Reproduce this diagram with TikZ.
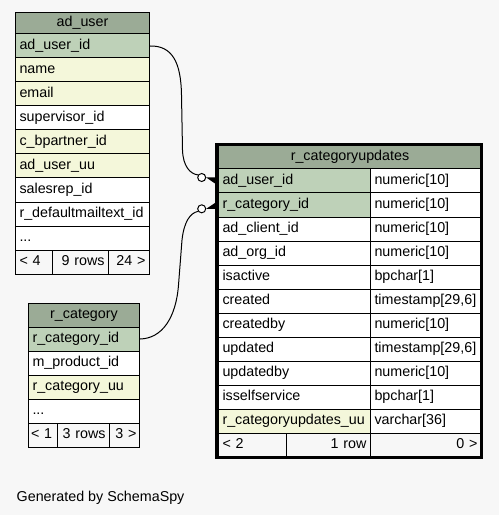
\documentclass[tikz,border=0pt]{standalone}
\usepackage{fontspec}
\setmainfont{Liberation Sans}
\newcommand\tblfont{\fontsize{14.3bp}{17bp}\selectfont}
\definecolor{bgc}{HTML}{F7F7F7}
\definecolor{hdrc}{HTML}{9BAB96}
\definecolor{pkc}{HTML}{BED1B8}
\definecolor{idxc}{HTML}{F4F7DA}
\tikzset{
  cellbase/.style={draw=black, line width=1bp, anchor=north west, inner xsep=4bp, inner ysep=0pt,
    minimum height=24bp, text height=10.5bp, text depth=3.3bp, font=\tblfont, align=left},
  hdr/.style={cellbase, fill=hdrc, align=center},
  pk/.style={cellbase, fill=pkc},
  idx/.style={cellbase, fill=idxc},
  plain/.style={cellbase, fill=white},
  ftr/.style={cellbase, fill=bgc},
  ftrr/.style={cellbase, fill=bgc, align=right},
  odot/.style={circle, draw=black, fill=white, line width=1bp, minimum size=8bp, inner sep=0pt},
  conn/.style={draw=black, line width=1bp},
  crow/.style={fill=black}
}
\begin{document}
\begin{tikzpicture}[x=1bp,y=-1bp]
\fill[bgc] (0,0) rectangle (499,515);
\useasboundingbox (0,0) rectangle (499,515);

% ad_user
\node[hdr, minimum height=21.5bp, text width=126bp] (uh) at (15,12) {ad\_user};
\node[pk, text width=126bp] (u1) at (15,33.5) {ad\_user\_id};
\node[idx, text width=126bp] (u2) at (15,57.5) {name};
\node[idx, text width=126bp] (u3) at (15,81.5) {email};
\node[plain, text width=126bp] (u4) at (15,105.5) {supervisor\_id};
\node[idx, text width=126bp] (u5) at (15,129.5) {c\_bpartner\_id};
\node[idx, text width=126bp] (u6) at (15,153.5) {ad\_user\_uu};
\node[plain, text width=126bp] (u7) at (15,177.5) {salesrep\_id};
\node[plain, text width=126bp] (u8) at (15,201.5) {r\_defaultmailtext\_id};
\node[plain, text width=126bp] (u9) at (15,225.5) {...};
\node[ftr, text width=29bp] (uf1) at (15,249.5) {< 4};
\node[ftrr, text width=48bp] (uf2) at (52,249.5) {9 rows};
\node[ftrr, text width=33bp] (uf3) at (108,249.5) {24 >};

% r_category
\node[hdr, text width=103bp] (ch) at (28,302.5) {r\_category};
\node[pk, text width=103bp] (c1) at (28,326.5) {r\_category\_id};
\node[plain, text width=103bp] (c2) at (28,350.5) {m\_product\_id};
\node[idx, text width=103bp] (c3) at (28,374.5) {r\_category\_uu};
\node[plain, text width=103bp] (c4) at (28,398.5) {...};
\node[ftr, inner xsep=2.5bp, text width=24bp] (cf1) at (28,422.5) {< 1};
\node[ftrr, text width=44bp] (cf2) at (57,422.5) {3 rows};
\node[ftrr, inner xsep=3bp, text width=24bp] (cf3) at (109,422.5) {3 >};

% r_categoryupdates
\node[hdr, minimum height=23.5bp, text width=255bp] (rh) at (218,145) {r\_categoryupdates};
\node[pk, text width=144bp] (r1) at (218,168.5) {ad\_user\_id};
\node[plain, text width=103bp] (t1) at (370,168.5) {numeric[10]};
\node[pk, text width=144bp] (r2) at (218,192.5) {r\_category\_id};
\node[plain, text width=103bp] (t2) at (370,192.5) {numeric[10]};
\node[plain, text width=144bp] (r3) at (218,216.5) {ad\_client\_id};
\node[plain, text width=103bp] (t3) at (370,216.5) {numeric[10]};
\node[plain, text width=144bp] (r4) at (218,240.5) {ad\_org\_id};
\node[plain, text width=103bp] (t4) at (370,240.5) {numeric[10]};
\node[plain, text width=144bp] (r5) at (218,264.5) {isactive};
\node[plain, text width=103bp] (t5) at (370,264.5) {bpchar[1]};
\node[plain, text width=144bp] (r6) at (218,288.5) {created};
\node[plain, text width=103bp] (t6) at (370,288.5) {timestamp[29,6]};
\node[plain, text width=144bp] (r7) at (218,312.5) {createdby};
\node[plain, text width=103bp] (t7) at (370,312.5) {numeric[10]};
\node[plain, text width=144bp] (r8) at (218,336.5) {updated};
\node[plain, text width=103bp] (t8) at (370,336.5) {timestamp[29,6]};
\node[plain, text width=144bp] (r9) at (218,360.5) {updatedby};
\node[plain, text width=103bp] (t9) at (370,360.5) {numeric[10]};
\node[plain, text width=144bp] (r10) at (218,384.5) {isselfservice};
\node[plain, text width=103bp] (t10) at (370,384.5) {bpchar[1]};
\node[idx, text width=144bp] (r11) at (218,408.5) {r\_categoryupdates\_uu};
\node[plain, text width=103bp] (t11) at (370,408.5) {varchar[36]};
\node[ftr, text width=60bp] (rf1) at (218,432.5) {< 2};
\node[ftrr, text width=76bp] (rf2) at (286,432.5) {1 row};
\node[ftrr, text width=103bp] (rf3) at (370,432.5) {0 >};
\draw[line width=3.2bp] (216.8,144.4) rectangle (481.7,457.6);

% connectors
\node[odot] (o1) at (201.7,177.5) {};
\node[odot] (o2) at (201.7,208.8) {};
\draw[conn] (u1.east) .. controls (172,45.5) and (181,62) .. (181.5,95) -- (182.5,150) .. controls (183,166) and (190,174) .. (o1.145);
\fill[crow] (o1.east) -- ([yshift=-4.5bp]r1.west) -- ([yshift=3.5bp]r1.west) -- cycle;
\draw[conn] (c1.east) .. controls (162,338.5) and (176,318) .. (178.5,285) -- (182,240) .. controls (184,222) and (190,213) .. (o2.215);
\fill[crow] (o2.east) -- ([yshift=-4bp]r2.west) -- ([yshift=4bp]r2.west) -- cycle;

\node[anchor=base west, inner sep=0pt, font=\tblfont] (gen) at (16.5,501) {Generated by SchemaSpy};
\end{tikzpicture}
\end{document}
